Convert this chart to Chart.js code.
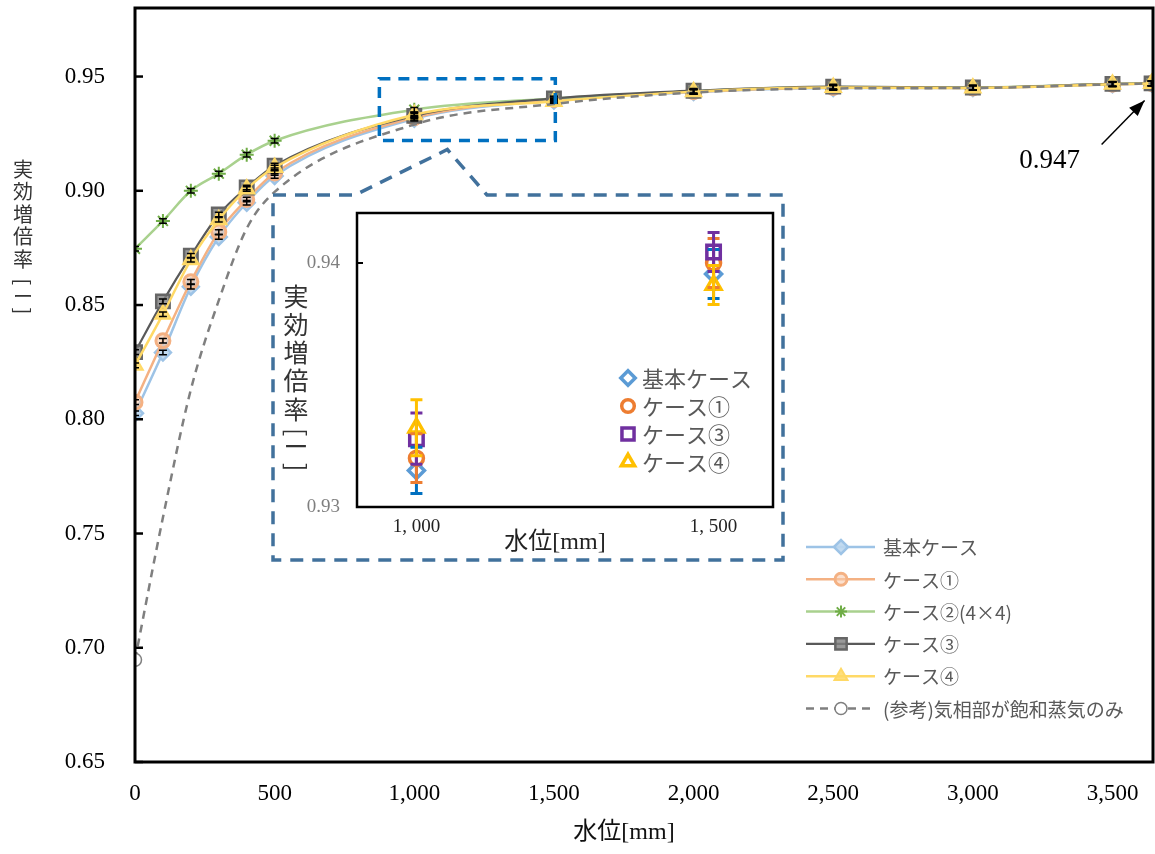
<!DOCTYPE html>
<html lang="ja">
<head>
<meta charset="utf-8">
<title>実効増倍率と水位</title>
<script src="https://cdn.jsdelivr.net/npm/chart.js"></script>
<style>
  body { margin: 0; background: #fff; }
  #wrap { position: relative; width: 1155px; height: 854px; }
  #mainChart { position: absolute; left: 0; top: 0; }
  #insetChart { position: absolute; left: 277px; top: 199px; background: #fff; }
</style>
</head>
<body>
<div id="wrap">
  <canvas id="mainChart" width="1155" height="854"></canvas>
  <canvas id="insetChart" width="503" height="358"></canvas>
</div>
<script>
// ---- data ----
const waterLevels = [0, 100, 200, 300, 400, 500, 1000, 1500, 2000, 2500, 3000, 3500, 3640];

const keffBase  = [0.8026, 0.8292, 0.8580, 0.8798, 0.8948, 0.9065, 0.9315, 0.93955, 0.9432, 0.9450, 0.9450, 0.9466, 0.9470];
const keffCase1 = [0.8075, 0.8344, 0.8602, 0.8820, 0.8962, 0.9078, 0.9320, 0.9400, 0.9433, 0.9452, 0.9450, 0.9466, 0.9470];
const keffCase2 = [0.8746, 0.8868, 0.9000, 0.9075, 0.9158, 0.9219, 0.9355, 0.9404, 0.9436, 0.9454, 0.9452, 0.9467, 0.9470];
const keffCase3 = [0.8294, 0.8516, 0.8716, 0.8896, 0.9014, 0.9110, 0.9328, 0.94045, 0.9438, 0.9456, 0.9452, 0.9468, 0.9470];
const keffCase4 = [0.8236, 0.8460, 0.8698, 0.8873, 0.9008, 0.9102, 0.93325, 0.9391, 0.9434, 0.9452, 0.9450, 0.9466, 0.9470];
const keffRef   = [0.6947, 0.7570, 0.8130, 0.8520, 0.8835, 0.8995, 0.9290, 0.9380, 0.9430, 0.9448, 0.9450, 0.9466, 0.9470];

// error (±) of each point
const errBase  = [0.001, 0.001, 0.001, 0.001, 0.001, 0.001, 0.00095, 0.001, 0.001, 0.001, 0.001, 0.001, 0.001];
const errCase1 = [0.001, 0.001, 0.001, 0.001, 0.001, 0.001, 0.001, 0.001, 0.001, 0.001, 0.001, 0.001, 0.001];
const errCase2 = [0.001, 0.001, 0.001, 0.001, 0.001, 0.001, 0.001, 0.001, 0.001, 0.001, 0.001, 0.001, 0.001];
const errCase3 = [0.001, 0.001, 0.001, 0.001, 0.001, 0.001, 0.00105, 0.0008, 0.001, 0.001, 0.001, 0.001, 0.001];
const errCase4 = [0.001, 0.001, 0.001, 0.001, 0.001, 0.001, 0.00115, 0.0008, 0.001, 0.001, 0.001, 0.001, 0.001];

const seriesNames = ['基本ケース', 'ケース①', 'ケース②(4×4)', 'ケース③', 'ケース④', '(参考)気相部が飽和蒸気のみ'];

const xTicksMain  = [0, 500, 1000, 1500, 2000, 2500, 3000, 3500];
const yTicksMain  = [0.65, 0.70, 0.75, 0.80, 0.85, 0.90, 0.95];
const xTicksInset = [1000, 1500];
const yTicksInset = [0.93, 0.94];

// region shown enlarged in the inset
const zoomRange = { xMin: 875, xMax: 1505, yMin: 0.922, yMax: 0.949 };

const SERIF = "'Liberation Serif', 'Noto Sans CJK JP', serif";
const SANS = "'Noto Sans CJK JP', sans-serif";

const toPoints = ys => waterLevels.map((x, i) => ({ x, y: ys[i] }));

// ---- helpers ----
function drawErrorBars(chart, capWidth, lineWidth) {
    const { ctx, chartArea: a, scales: { y } } = chart;
    ctx.save();
    ctx.beginPath();
    ctx.rect(a.left, a.top, a.right - a.left, a.bottom - a.top);
    ctx.clip();
    chart.data.datasets.forEach((ds, i) => {
        if (!ds.errors) return;
        const meta = chart.getDatasetMeta(i);
        ctx.strokeStyle = ds.errorColor;
        ctx.lineWidth = lineWidth;
        meta.data.forEach((pt, j) => {
            const v = ds.data[j].y, e = ds.errors[j];
            const top = y.getPixelForValue(v + e), bot = y.getPixelForValue(v - e);
            ctx.beginPath();
            ctx.moveTo(pt.x, top); ctx.lineTo(pt.x, bot);
            ctx.moveTo(pt.x - capWidth / 2, top); ctx.lineTo(pt.x + capWidth / 2, top);
            ctx.moveTo(pt.x - capWidth / 2, bot); ctx.lineTo(pt.x + capWidth / 2, bot);
            ctx.stroke();
        });
    });
    ctx.restore();
}

// vertical (stacked) axis title, brackets turned sideways
function drawStackedTitle(ctx, x, y0, size, pitch, gaps, color) {
    ctx.save();
    ctx.font = `${size}px ${SANS}`;
    ctx.fillStyle = color;
    ctx.textAlign = 'center';
    ctx.textBaseline = 'middle';
    let y = y0;
    ['実', '効', '増', '倍', '率'].forEach((ch, i) => {
        if (i) y += pitch;
        ctx.fillText(ch, x, y);
    });
    y += gaps[0];
    ctx.save(); ctx.translate(x, y); ctx.rotate(Math.PI / 2); ctx.fillText('[', 0, 0); ctx.restore();
    y += gaps[1];
    ctx.fillText('ー', x, y);
    y += gaps[2];
    ctx.save(); ctx.translate(x, y); ctx.rotate(Math.PI / 2); ctx.fillText(']', 0, 0); ctx.restore();
    ctx.restore();
}

function drawMarker(ctx, style, x, y) {
    ctx.save();
    ctx.fillStyle = style.fill;
    ctx.strokeStyle = style.stroke;
    ctx.lineWidth = style.borderWidth;
    Chart.helpers.drawPoint(ctx, { pointStyle: style.pointStyle, radius: style.radius, borderWidth: style.borderWidth, rotation: 0 }, x, y);
    ctx.restore();
}

// fixed axis boxes, no label overflow padding
const fixHeight = h => s => { s.height = h; s.paddingLeft = 0; s.paddingRight = 0; s.paddingTop = 0; s.paddingBottom = 0; };
const fixWidth = w => s => { s.width = w; s.paddingLeft = 0; s.paddingRight = 0; s.paddingTop = 0; s.paddingBottom = 0; };

// ---- main chart decorations ----
const mainDecor = {
    id: 'mainDecor',
    afterDatasetsDraw(chart) {
        drawErrorBars(chart, 8, 1.5);
    },
    afterDraw(chart) {
        const { ctx, chartArea: a, scales: { x, y } } = chart;
        ctx.save();

        // plot frame and inward ticks
        ctx.strokeStyle = '#000';
        ctx.lineWidth = 3;
        ctx.strokeRect(a.left, a.top, a.right - a.left, a.bottom - a.top);
        ctx.lineWidth = 2.5;
        yTicksMain.forEach(v => {
            const py = y.getPixelForValue(v);
            ctx.beginPath(); ctx.moveTo(a.left, py); ctx.lineTo(a.left + 8, py); ctx.stroke();
        });

        // zoomed region box
        const zx0 = x.getPixelForValue(zoomRange.xMin), zx1 = x.getPixelForValue(zoomRange.xMax);
        const zy0 = y.getPixelForValue(zoomRange.yMax), zy1 = y.getPixelForValue(zoomRange.yMin);
        ctx.setLineDash([11, 8]);
        ctx.strokeStyle = '#0070C0';
        ctx.lineWidth = 3.5;
        ctx.strokeRect(zx0, zy0, zx1 - zx0, zy1 - zy0);

        // callout frame around the inset
        ctx.setLineDash([13, 9]);
        ctx.strokeStyle = '#41719C';
        ctx.beginPath();
        ctx.moveTo(273, 195); ctx.lineTo(355, 195);
        ctx.lineTo((zx0 + zx1) / 2 - 20, zy1 + 9);
        ctx.lineTo(487, 195); ctx.lineTo(783, 195);
        ctx.lineTo(783, 560); ctx.lineTo(273, 560); ctx.closePath();
        ctx.stroke();
        ctx.setLineDash([]);

        // arrow to the last value
        const lastIdx = waterLevels.length - 1;
        const px = x.getPixelForValue(waterLevels[lastIdx]), py = y.getPixelForValue(keffCase3[lastIdx]);
        const tipX = px - 7, tipY = py + 17, tailX = px - 50, tailY = py + 61;
        ctx.strokeStyle = '#000'; ctx.fillStyle = '#000'; ctx.lineWidth = 1.5;
        ctx.beginPath(); ctx.moveTo(tailX, tailY); ctx.lineTo(tipX, tipY); ctx.stroke();
        const ang = Math.atan2(tipY - tailY, tipX - tailX);
        ctx.beginPath();
        ctx.moveTo(tipX, tipY);
        ctx.lineTo(tipX - 16 * Math.cos(ang) + 6 * Math.sin(ang), tipY - 16 * Math.sin(ang) - 6 * Math.cos(ang));
        ctx.lineTo(tipX - 16 * Math.cos(ang) - 6 * Math.sin(ang), tipY - 16 * Math.sin(ang) + 6 * Math.cos(ang));
        ctx.closePath(); ctx.fill();
        ctx.font = `27px ${SERIF}`;
        ctx.textAlign = 'center'; ctx.textBaseline = 'middle';
        ctx.fillText(keffCase3[lastIdx].toFixed(3), px - 102, py + 78);

        // axis titles
        ctx.font = `24px ${SERIF}`;
        ctx.fillStyle = '#111';
        ctx.fillText('水位[mm]', (a.left + a.right) / 2 - 20, 833);
        drawStackedTitle(ctx, 23, 169, 20, 22.5, [23, 14, 15], '#333');

        // legend
        chart.data.datasets.forEach((ds, i) => {
            const ly = 547 + i * 32.3;
            ctx.save();
            ctx.strokeStyle = ds.borderColor;
            ctx.lineWidth = ds.borderWidth;
            ctx.setLineDash(ds.borderDash || []);
            ctx.beginPath(); ctx.moveTo(806, ly); ctx.lineTo(875, ly); ctx.stroke();
            ctx.setLineDash([]);
            ctx.restore();
            drawMarker(ctx, ds.legendMarker, 841, ly);
            ctx.font = `19px ${SANS}`;
            ctx.fillStyle = '#595959';
            ctx.textAlign = 'left'; ctx.textBaseline = 'middle';
            ctx.fillText(ds.label, 883, ly + 1);
        });
        ctx.restore();
    }
};

// ---- main datasets ----
function lineSeries(name, ys, errs, s) {
    return {
        label: name,
        data: toPoints(ys),
        errors: errs,
        errorColor: '#000',
        borderColor: s.line,
        borderWidth: s.lineWidth || 2.5,
        borderDash: s.dash,
        cubicInterpolationMode: 'monotone',
        pointStyle: s.pointStyle,
        pointRadius: s.radius,
        pointBackgroundColor: s.fill,
        pointBorderColor: s.stroke,
        pointBorderWidth: s.borderWidth,
        order: s.order,
        legendMarker: { pointStyle: s.pointStyle, radius: s.legendRadius, fill: s.fill, stroke: s.stroke, borderWidth: s.borderWidth }
    };
}

const mainDatasets = [
    lineSeries(seriesNames[0], keffBase, errBase, { line: '#9DC3E6', pointStyle: 'rectRot', radius: 8, legendRadius: 7, fill: 'rgba(189,215,238,0.9)', stroke: '#9DC3E6', borderWidth: 2.5, order: 5 }),
    lineSeries(seriesNames[1], keffCase1, errCase1, { line: '#F4B183', pointStyle: 'circle', radius: 7, legendRadius: 6, fill: 'rgba(248,203,173,0.6)', stroke: '#F4B183', borderWidth: 3, order: 4 }),
    lineSeries(seriesNames[2], keffCase2, errCase2, { line: '#A9D18E', pointStyle: 'star', radius: 7, legendRadius: 6, fill: '#70AD47', stroke: '#70AD47', borderWidth: 2, order: 3 }),
    lineSeries(seriesNames[3], keffCase3, errCase3, { line: '#595959', lineWidth: 2.2, pointStyle: 'rect', radius: 9.5, legendRadius: 8, fill: 'rgba(127,127,127,0.8)', stroke: '#666666', borderWidth: 2.5, order: 2 }),
    lineSeries(seriesNames[4], keffCase4, errCase4, { line: '#FFD966', pointStyle: 'triangle', radius: 9, legendRadius: 7.5, fill: 'rgba(255,217,102,0.85)', stroke: '#FFD966', borderWidth: 2, order: 1 }),
    lineSeries(seriesNames[5], keffRef, null, { line: '#7F7F7F', dash: [8, 6], pointStyle: 'circle', radius: ctx => (ctx.dataIndex === 0 ? 6.5 : 0), legendRadius: 6, fill: '#fff', stroke: '#7F7F7F', borderWidth: 1.5, order: 0 })
];

new Chart(document.getElementById('mainChart'), {
    type: 'line',
    data: { datasets: mainDatasets },
    options: {
        responsive: false,
        animation: false,
        layout: { autoPadding: false, padding: { top: 8, right: 2, left: 0, bottom: 0 } },
        plugins: { legend: { display: false }, tooltip: { enabled: false } },
        scales: {
            x: {
                type: 'linear', min: 0, max: 3645,
                afterBuildTicks: s => { s.ticks = xTicksMain.map(v => ({ value: v })); },
                afterFit: fixHeight(92),
                grid: { display: false, drawTicks: false },
                border: { display: false },
                ticks: { padding: 18, color: '#000', font: { family: SERIF, size: 23 }, maxRotation: 0, callback: v => Number(v).toLocaleString('en-US') }
            },
            y: {
                min: 0.65, max: 0.98,
                afterBuildTicks: s => { s.ticks = yTicksMain.map(v => ({ value: v })); },
                afterFit: fixWidth(135),
                grid: { display: false, drawTicks: false },
                border: { display: false },
                ticks: { padding: 30, color: '#000', font: { family: SERIF, size: 23 }, callback: v => Number(v).toFixed(2) }
            }
        }
    },
    plugins: [mainDecor]
});

// ---- inset chart ----
const insetDecor = {
    id: 'insetDecor',
    afterDatasetsDraw(chart) {
        drawErrorBars(chart, 12, 3);
    },
    afterDraw(chart) {
        const { ctx, chartArea: a, scales: { y } } = chart;
        ctx.save();
        ctx.strokeStyle = '#000';
        ctx.lineWidth = 2.5;
        ctx.strokeRect(a.left, a.top, a.right - a.left, a.bottom - a.top);
        ctx.lineWidth = 2;
        yTicksInset.forEach(v => {
            const py = y.getPixelForValue(v);
            ctx.beginPath(); ctx.moveTo(a.left, py); ctx.lineTo(a.left + 6, py); ctx.stroke();
        });

        ctx.font = `24px ${SERIF}`;
        ctx.fillStyle = '#222';
        ctx.textAlign = 'center'; ctx.textBaseline = 'middle';
        ctx.fillText('水位[mm]', (a.left + a.right) / 2 - 10, 344);
        drawStackedTitle(ctx, 19, 97, 25, 28.3, [23, 14, 21], '#333');

        chart.data.datasets.forEach((ds, i) => {
            const ly = 179 + i * 28;
            drawMarker(ctx, { pointStyle: ds.pointStyle, radius: ds.pointRadius * 0.9, fill: '#fff', stroke: ds.pointBorderColor, borderWidth: ds.pointBorderWidth }, 351, ly);
            ctx.font = `22px ${SANS}`;
            ctx.fillStyle = '#595959';
            ctx.textAlign = 'left';
            ctx.fillText(ds.label, 365, ly + 1);
        });
        ctx.restore();
    }
};

function insetSeries(name, ys, errs, s) {
    return {
        label: name,
        data: toPoints(ys),
        errors: errs,
        errorColor: s.errorColor,
        showLine: false,
        pointStyle: s.pointStyle,
        pointRadius: s.radius,
        pointBackgroundColor: '#fff',
        pointBorderColor: s.color,
        pointBorderWidth: 3.5,
        order: s.order
    };
}

const insetDatasets = [
    insetSeries(seriesNames[0], keffBase, errBase, { color: '#5B9BD5', errorColor: '#0070C0', pointStyle: 'rectRot', radius: 8, order: 3 }),
    insetSeries(seriesNames[1], keffCase1, errCase1, { color: '#ED7D31', errorColor: '#ED7D31', pointStyle: 'circle', radius: 7, order: 2 }),
    insetSeries(seriesNames[3], keffCase3, errCase3, { color: '#7030A0', errorColor: '#7030A0', pointStyle: 'rect', radius: 9.5, order: 1 }),
    insetSeries(seriesNames[4], keffCase4, errCase4, { color: '#FFC000', errorColor: '#FFC000', pointStyle: 'triangle', radius: 8.5, order: 0 })
];

new Chart(document.getElementById('insetChart'), {
    type: 'scatter',
    data: { datasets: insetDatasets },
    options: {
        responsive: false,
        animation: false,
        layout: { autoPadding: false, padding: { top: 14, right: 7, left: 0, bottom: 0 } },
        plugins: { legend: { display: false }, tooltip: { enabled: false } },
        scales: {
            x: {
                type: 'linear', min: 900, max: 1600,
                afterBuildTicks: s => { s.ticks = xTicksInset.map(v => ({ value: v })); },
                afterFit: fixHeight(50),
                grid: { display: false, drawTicks: false },
                border: { display: false },
                ticks: { padding: 9, color: '#222', font: { family: SERIF, size: 19 }, maxRotation: 0, callback: v => Number(v).toLocaleString('en-US').replace(',', ', ') }
            },
            y: {
                min: 0.93, max: 0.94205,
                afterBuildTicks: s => { s.ticks = yTicksInset.map(v => ({ value: v })); },
                afterFit: fixWidth(80),
                grid: { display: false, drawTicks: false },
                border: { display: false },
                ticks: { padding: 17, color: '#7F7F7F', font: { family: SERIF, size: 19 }, callback: v => Number(v).toFixed(2) }
            }
        }
    },
    plugins: [insetDecor]
});
</script>
</body>
</html>
